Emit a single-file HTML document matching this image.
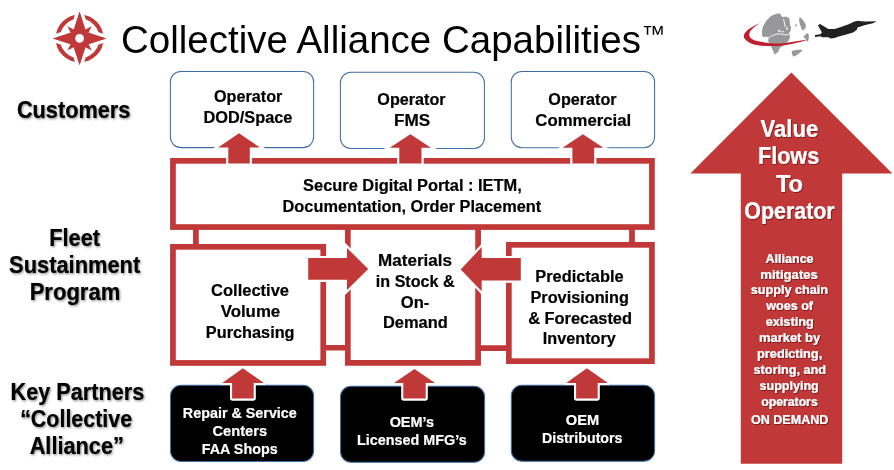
<!DOCTYPE html>
<html><head><meta charset="utf-8">
<style>
html,body{margin:0;padding:0;background:#fff;}
body{width:894px;height:470px;overflow:hidden;}
svg{display:block;will-change:transform;}
text{font-family:"Liberation Sans",sans-serif;}
</style></head>
<body>
<svg width="894" height="470" viewBox="0 0 894 470">
<defs>
<filter id="sh" x="-10%" y="-20%" width="130%" height="160%">
<feDropShadow dx="1" dy="1.2" stdDeviation="0.8" flood-color="#000" flood-opacity="0.45"/>
</filter>
<filter id="shw" x="-10%" y="-20%" width="130%" height="160%">
<feDropShadow dx="0.8" dy="0.9" stdDeviation="0.5" flood-color="#400" flood-opacity="0.6"/>
</filter>
</defs>
<rect width="894" height="470" fill="#fff"/>

<!-- compass logo -->
<g transform="translate(79.6 38.4)">
<circle r="21.9" fill="none" stroke="#C13838" stroke-width="4.2"/>
<path d="M0,-26.6 L6.48,-6.48 L26.6,0 L6.48,6.48 L0,26.6 L-6.48,6.48 L-26.6,0 L-6.48,-6.48 Z" fill="#C13838" stroke="#fff" stroke-width="7" paint-order="stroke" stroke-linejoin="round"/>
<path d="M0,-26.6 L5.7,-8.9 L12.2,-12.2 L8.9,-5.7 L26.6,0 L8.9,5.7 L12.2,12.2 L5.7,8.9 L0,26.6 L-5.7,8.9 L-12.2,12.2 L-8.9,5.7 L-26.6,0 L-8.9,-5.7 L-12.2,-12.2 L-5.7,-8.9 Z" fill="#C13838"/>
<circle r="4.35" fill="#fff"/>
</g>

<!-- trademark -->
<text x="641.8" y="42.2" font-size="23.5" fill="#000" style="font-family:'Liberation Sans'">™</text>

<!-- globe logo -->
<g fill="#98989A">
<path d="M762.4,36.4 L761.8,31 L763,26.4 L766.4,20.6 L771,16 L775.6,14 L779.6,13.2 L782.5,17.2 L786,16.6 L789.4,18.3 L790,24.1 L791.1,28.1 L790.5,31 L789.4,32.7 L790,37.3 L788.2,41.3 L784.8,44.8 L780.2,47.6 L777.9,52.2 L774.5,54.5 L773.3,51.6 L771,45.9 L768.1,41.3 L768.7,37.5 L766,36.5 L764,37.2 Z"/>
<path d="M799.5,17.1 C802,18.5 804.5,21.5 805.8,24.9 C806,27 805.5,29 802.5,30.5 C801.5,29.5 801,28 801,27.1 C800,25 799.2,22.5 799.1,19.5 Z"/>
<path d="M807.3,33.1 L808.8,34.6 L808.8,38 L808,42.3 L805.1,38.3 L803.2,36.8 Z"/>
<circle cx="796.2" cy="25.3" r="1"/>
<path d="M791.7,51.1 C795,50 799,49.5 802.8,49.8 C801,52.5 797,55.5 793.2,56.8 C792.3,55 791.6,53 791.7,51.1 Z"/>
</g>
<g fill="none" stroke="#fff" stroke-width="0.9">
<path d="M768.7,37.6 C771,36 774,34.6 777,34 C780,33.6 783,34.6 786,35 C787.5,35 788.8,34.2 789.6,33.6"/>
<path d="M783.5,19 C784.3,21.5 784.8,24 785.2,27"/>
</g>
<g fill="#fff">
<ellipse cx="779.2" cy="30.8" rx="1.4" ry="0.9"/>
<ellipse cx="782.5" cy="31.8" rx="1.3" ry="0.8"/>
<ellipse cx="787" cy="28.5" rx="0.8" ry="1.3"/>
</g>
<path d="M760.4,23.1 C754,25.5 748.5,28.8 745.5,32.2 C743.8,34.2 743.3,36.5 744.5,38.6 C746.5,41.5 750.5,43.6 755,44.8 C760,45.8 765,46.1 770.4,46.1 C775,46.1 779,45.8 782.7,45.4 C787,44.8 791,44.2 795,43.2 C799,42.2 803,41 808.5,39.4 C803,40.2 799,40.8 795,41.4 C790.5,42.2 786.5,42.8 782.7,43.2 C778.5,43.5 774.5,43.5 770.4,43.2 C765,42.6 759.5,41.8 755,40.5 C752.5,39.6 750.6,38.4 749.8,36.8 C748.9,35 749.2,33 750.4,31 C752.2,28.3 755.8,25.6 760.4,23.1 Z" fill="#BE1E2D"/>
<!-- jet -->
<path d="M817.9,25.3 L820,24 L828.4,28.9 L834.8,28.9 L842.4,26.6 L849.3,24 L853.8,21.7 L857.6,20.7 L861.4,21.3 L865.2,21.5 L876.7,21.3 L872.9,23.2 L865.2,25.1 L857.6,27.4 L856.9,29.7 L853.1,32.6 L846.2,34.6 L837.1,37 L834.8,38 L830.3,38.4 L828.7,37.3 L821.9,37.3 L820.7,36.2 L815,36.9 L815,35 L820.4,34.3 L821.9,32.4 L819.6,28.2 Z" fill="#212121"/>

<!-- customer boxes -->
<g fill="#fff" stroke="#3F6DA6" stroke-width="1.05">
<rect x="170.4" y="71.4" width="143.2" height="76.2" rx="10.5"/>
<rect x="340.4" y="72.3" width="144" height="76.2" rx="10.5"/>
<rect x="511.3" y="71.4" width="143.3" height="76.3" rx="10.5"/>
</g>

<!-- red frames -->
<g fill="none" stroke="#C13838" stroke-width="5.7">
<rect x="172.95" y="160.85" width="479" height="66.2"/>
<rect x="172.95" y="246.85" width="150.3" height="116.1"/>
<rect x="508.85" y="244.85" width="143.1" height="116.3"/>
<path d="M347.85,227 V362.95 H478.1 V227"/>
<path d="M195.9,229 V246 M632,229 V244 M323,347.75 H348 M478,348.1 H509"/>
</g>

<!-- arrows (white outline) -->
<g fill="#C13838" stroke="#fff" stroke-width="4.4" paint-order="stroke" stroke-linejoin="miter">
<path d="M239,133.2 L260,147.5 L249.8,147.5 L249.8,163.6 L228.3,163.6 L228.3,147.5 L218.2,147.5 Z"/>
<path d="M410.4,134.3 L431,147.7 L421.5,147.7 L421.5,163.6 L399.3,163.6 L399.3,147.7 L389.7,147.7 Z"/>
<path d="M582.9,134.3 L603.4,147.7 L594.2,147.7 L594.2,163.6 L572.4,163.6 L572.4,147.7 L562.6,147.7 Z"/>
<path d="M368.2,269.1 L347,290 L347,279.8 L308.2,279.8 L308.2,258.1 L347,258.1 L347,247.9 Z"/>
<path d="M460.7,269.5 L481.7,247 L481.7,258.1 L520.8,258.1 L520.8,280.5 L481.7,280.5 L481.7,291.2 Z"/>
</g>

<!-- black boxes -->
<g fill="#000" stroke="#3F6DA6" stroke-width="1.05">
<rect x="170.5" y="385.3" width="143.1" height="76.1" rx="10.5"/>
<rect x="340.5" y="386.2" width="144.1" height="76.1" rx="10.5"/>
<rect x="511.3" y="385.3" width="143.3" height="75.9" rx="10.5"/>
</g>
<g fill="#C13838" stroke="#fff" stroke-width="4.2" paint-order="stroke" stroke-linejoin="round">
<path d="M242.9,368.3 L263.9,382.9 L253.7,382.9 L253.7,398.6 L232.1,398.6 L232.1,382.9 L222.2,382.9 Z"/>
<path d="M414.5,369 L435,382.9 L425.7,382.9 L425.7,398.6 L403.3,398.6 L403.3,382.9 L394,382.9 Z"/>
<path d="M586.9,368.3 L607.9,382.9 L597.7,382.9 L597.7,398.6 L576.1,398.6 L576.1,382.9 L566.2,382.9 Z"/>
</g>

<!-- big arrow -->
<path d="M791.4,72.5 L892.4,173.4 L842.2,173.4 L842.2,463.7 L740.8,463.7 L740.8,173.4 L690.4,173.4 Z" fill="#C13838"/>

<text x="120.98" y="52.6" font-size="38.2" fill="#000" textLength="520.02" lengthAdjust="spacingAndGlyphs">Collective Alliance Capabilities</text>
<text x="214.06" y="101.8" font-size="15.6" font-weight="bold" fill="#000" stroke="#000" stroke-width="0.2" textLength="68.29" lengthAdjust="spacingAndGlyphs">Operator</text>
<text x="203.55" y="123.1" font-size="15.6" font-weight="bold" fill="#000" stroke="#000" stroke-width="0.2" textLength="88.88" lengthAdjust="spacingAndGlyphs">DOD/Space</text>
<text x="377.36" y="104.6" font-size="15.6" font-weight="bold" fill="#000" stroke="#000" stroke-width="0.2" textLength="68.29" lengthAdjust="spacingAndGlyphs">Operator</text>
<text x="394.00" y="125.9" font-size="15.6" font-weight="bold" fill="#000" stroke="#000" stroke-width="0.2" textLength="36.21" lengthAdjust="spacingAndGlyphs">FMS</text>
<text x="548.36" y="104.6" font-size="15.6" font-weight="bold" fill="#000" stroke="#000" stroke-width="0.2" textLength="68.29" lengthAdjust="spacingAndGlyphs">Operator</text>
<text x="535.33" y="125.9" font-size="15.6" font-weight="bold" fill="#000" stroke="#000" stroke-width="0.2" textLength="95.85" lengthAdjust="spacingAndGlyphs">Commercial</text>
<text x="303.08" y="191.0" font-size="16.0" font-weight="bold" fill="#000" stroke="#000" stroke-width="0.2" textLength="218.71" lengthAdjust="spacingAndGlyphs">Secure Digital Portal : IETM,</text>
<text x="282.58" y="211.5" font-size="16.0" font-weight="bold" fill="#000" stroke="#000" stroke-width="0.2" textLength="258.62" lengthAdjust="spacingAndGlyphs">Documentation, Order Placement</text>
<text x="211.07" y="295.5" font-size="16" font-weight="bold" fill="#000" stroke="#000" stroke-width="0.2" textLength="77.94" lengthAdjust="spacingAndGlyphs">Collective</text>
<text x="220.70" y="316.5" font-size="16" font-weight="bold" fill="#000" stroke="#000" stroke-width="0.2" textLength="59.54" lengthAdjust="spacingAndGlyphs">Volume</text>
<text x="205.88" y="338.3" font-size="16" font-weight="bold" fill="#000" stroke="#000" stroke-width="0.2" textLength="88.68" lengthAdjust="spacingAndGlyphs">Purchasing</text>
<text x="378.14" y="265.7" font-size="16" font-weight="bold" fill="#000" stroke="#000" stroke-width="0.2" textLength="73.86" lengthAdjust="spacingAndGlyphs">Materials</text>
<text x="375.89" y="286.6" font-size="16" font-weight="bold" fill="#000" stroke="#000" stroke-width="0.2" textLength="78.64" lengthAdjust="spacingAndGlyphs">in Stock &amp;</text>
<text x="400.77" y="307.7" font-size="16" font-weight="bold" fill="#000" stroke="#000" stroke-width="0.2" textLength="28.50" lengthAdjust="spacingAndGlyphs">On-</text>
<text x="382.97" y="327.5" font-size="16" font-weight="bold" fill="#000" stroke="#000" stroke-width="0.2" textLength="64.78" lengthAdjust="spacingAndGlyphs">Demand</text>
<text x="535.28" y="282.0" font-size="16" font-weight="bold" fill="#000" stroke="#000" stroke-width="0.2" textLength="88.30" lengthAdjust="spacingAndGlyphs">Predictable</text>
<text x="530.48" y="303.1" font-size="16" font-weight="bold" fill="#000" stroke="#000" stroke-width="0.2" textLength="98.54" lengthAdjust="spacingAndGlyphs">Provisioning</text>
<text x="528.18" y="323.8" font-size="16" font-weight="bold" fill="#000" stroke="#000" stroke-width="0.2" textLength="103.83" lengthAdjust="spacingAndGlyphs">&amp; Forecasted</text>
<text x="542.89" y="343.8" font-size="16" font-weight="bold" fill="#000" stroke="#000" stroke-width="0.2" textLength="72.83" lengthAdjust="spacingAndGlyphs">Inventory</text>
<text x="182.84" y="418.4" font-size="15.0" font-weight="bold" fill="#fff" stroke="#fff" stroke-width="0.2" textLength="113.98" lengthAdjust="spacingAndGlyphs">Repair &amp; Service</text>
<text x="212.42" y="436.0" font-size="15.0" font-weight="bold" fill="#fff" stroke="#fff" stroke-width="0.2" textLength="54.72" lengthAdjust="spacingAndGlyphs">Centers</text>
<text x="201.74" y="454.0" font-size="15.0" font-weight="bold" fill="#fff" stroke="#fff" stroke-width="0.2" textLength="75.89" lengthAdjust="spacingAndGlyphs">FAA Shops</text>
<text x="389.64" y="427.4" font-size="15.0" font-weight="bold" fill="#fff" stroke="#fff" stroke-width="0.2" textLength="44.38" lengthAdjust="spacingAndGlyphs">OEM’s</text>
<text x="356.94" y="444.7" font-size="15.0" font-weight="bold" fill="#fff" stroke="#fff" stroke-width="0.2" textLength="109.72" lengthAdjust="spacingAndGlyphs">Licensed MFG’s</text>
<text x="565.72" y="425.3" font-size="15.0" font-weight="bold" fill="#fff" stroke="#fff" stroke-width="0.2" textLength="33.42" lengthAdjust="spacingAndGlyphs">OEM</text>
<text x="541.95" y="442.9" font-size="15.0" font-weight="bold" fill="#fff" stroke="#fff" stroke-width="0.2" textLength="80.56" lengthAdjust="spacingAndGlyphs">Distributors</text>
<g filter="url(#sh)">
<text x="16.96" y="117.6" font-size="23.2" font-weight="bold" fill="#000" stroke="#000" stroke-width="0.2" textLength="113.29" lengthAdjust="spacingAndGlyphs">Customers</text>
<text x="49.16" y="245.9" font-size="23.2" font-weight="bold" fill="#000" stroke="#000" stroke-width="0.2" textLength="50.86" lengthAdjust="spacingAndGlyphs">Fleet</text>
<text x="9.06" y="272.5" font-size="23.2" font-weight="bold" fill="#000" stroke="#000" stroke-width="0.2" textLength="131.19" lengthAdjust="spacingAndGlyphs">Sustainment</text>
<text x="29.65" y="299.6" font-size="23.2" font-weight="bold" fill="#000" stroke="#000" stroke-width="0.2" textLength="90.64" lengthAdjust="spacingAndGlyphs">Program</text>
<text x="10.57" y="400.3" font-size="23.2" font-weight="bold" fill="#000" stroke="#000" stroke-width="0.2" textLength="133.64" lengthAdjust="spacingAndGlyphs">Key Partners</text>
<text x="20.15" y="426.7" font-size="23.2" font-weight="bold" fill="#000" stroke="#000" stroke-width="0.2" textLength="111.98" lengthAdjust="spacingAndGlyphs">“Collective</text>
<text x="29.66" y="454.3" font-size="23.2" font-weight="bold" fill="#000" stroke="#000" stroke-width="0.2" textLength="94.27" lengthAdjust="spacingAndGlyphs">Alliance”</text>
</g>
<g filter="url(#shw)">
<text x="760.60" y="136.8" font-size="23.8" font-weight="bold" fill="#fff" stroke="#fff" stroke-width="0.2" textLength="57.67" lengthAdjust="spacingAndGlyphs">Value</text>
<text x="757.98" y="164.2" font-size="23.8" font-weight="bold" fill="#fff" stroke="#fff" stroke-width="0.2" textLength="61.21" lengthAdjust="spacingAndGlyphs">Flows</text>
<text x="775.90" y="191.7" font-size="23.8" font-weight="bold" fill="#fff" stroke="#fff" stroke-width="0.2" textLength="27.11" lengthAdjust="spacingAndGlyphs">To</text>
<text x="744.30" y="218.6" font-size="23.8" font-weight="bold" fill="#fff" stroke="#fff" stroke-width="0.2" textLength="90.35" lengthAdjust="spacingAndGlyphs">Operator</text>
<text x="765.50" y="262.8" font-size="12.6" font-weight="bold" fill="#fff" stroke="#fff" stroke-width="0.2" textLength="48.10" lengthAdjust="spacingAndGlyphs">Alliance</text>
<text x="760.26" y="278.6" font-size="12.6" font-weight="bold" fill="#fff" stroke="#fff" stroke-width="0.2" textLength="57.65" lengthAdjust="spacingAndGlyphs">mitigates</text>
<text x="750.69" y="294.3" font-size="12.6" font-weight="bold" fill="#fff" stroke="#fff" stroke-width="0.2" textLength="77.39" lengthAdjust="spacingAndGlyphs">supply chain</text>
<text x="766.30" y="310.2" font-size="12.6" font-weight="bold" fill="#fff" stroke="#fff" stroke-width="0.2" textLength="46.69" lengthAdjust="spacingAndGlyphs">woes of</text>
<text x="765.70" y="326.4" font-size="12.6" font-weight="bold" fill="#fff" stroke="#fff" stroke-width="0.2" textLength="48.00" lengthAdjust="spacingAndGlyphs">existing</text>
<text x="758.97" y="341.9" font-size="12.6" font-weight="bold" fill="#fff" stroke="#fff" stroke-width="0.2" textLength="61.16" lengthAdjust="spacingAndGlyphs">market by</text>
<text x="757.09" y="357.6" font-size="12.6" font-weight="bold" fill="#fff" stroke="#fff" stroke-width="0.2" textLength="65.09" lengthAdjust="spacingAndGlyphs">predicting,</text>
<text x="753.49" y="373.6" font-size="12.6" font-weight="bold" fill="#fff" stroke="#fff" stroke-width="0.2" textLength="72.59" lengthAdjust="spacingAndGlyphs">storing, and</text>
<text x="759.61" y="389.5" font-size="12.6" font-weight="bold" fill="#fff" stroke="#fff" stroke-width="0.2" textLength="59.07" lengthAdjust="spacingAndGlyphs">supplying</text>
<text x="761.30" y="405.5" font-size="12.6" font-weight="bold" fill="#fff" stroke="#fff" stroke-width="0.2" textLength="56.39" lengthAdjust="spacingAndGlyphs">operators</text>
<text x="751.10" y="423.6" font-size="12.6" font-weight="bold" fill="#fff" stroke="#fff" stroke-width="0.2" textLength="77.17" lengthAdjust="spacingAndGlyphs">ON DEMAND</text>
</g>
</svg>
</body></html>
